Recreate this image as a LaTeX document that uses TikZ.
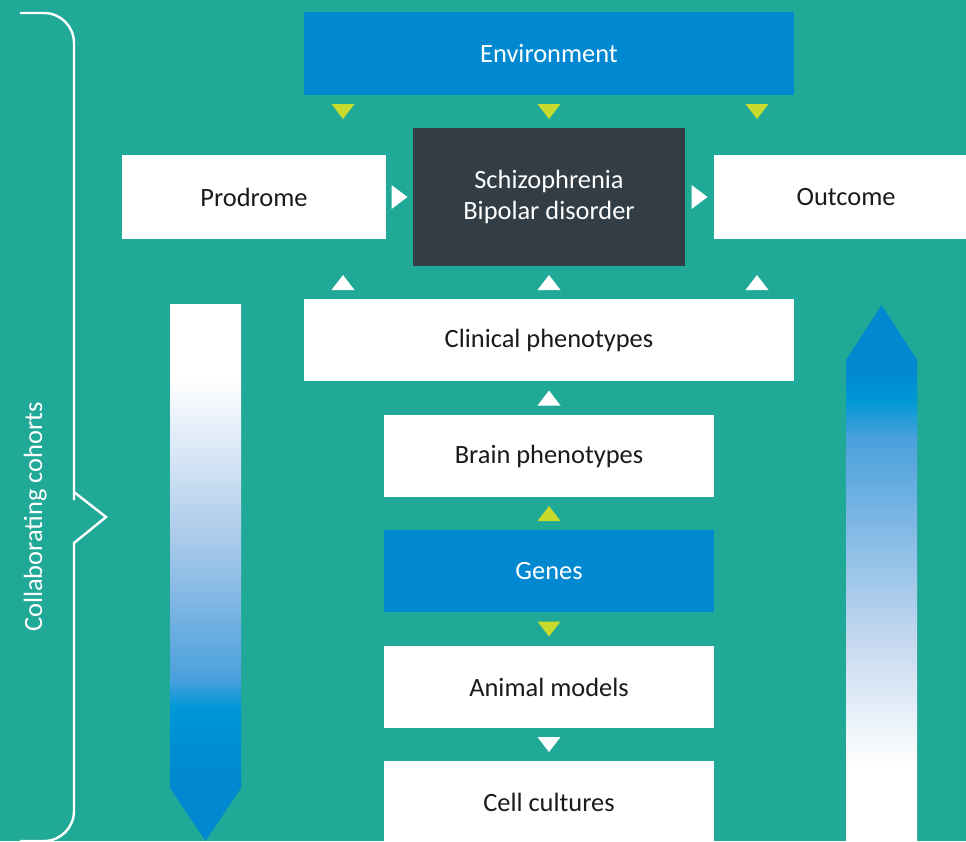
\documentclass[tikz,border=0pt]{standalone}
\usepackage{fontspec}
\setmainfont{Carlito}
\usetikzlibrary{calc}

\definecolor{bgteal}{HTML}{21A997}
\definecolor{boxblue}{HTML}{0089D0}
\definecolor{boxdark}{HTML}{323D45}
\definecolor{arrowyel}{HTML}{C8DA2B}
\definecolor{txtdark}{HTML}{1A1A1A}
\definecolor{gA}{HTML}{A9C9EA}
\definecolor{gB}{HTML}{4AA0DC}
\definecolor{gC}{HTML}{0098D6}
\definecolor{gD}{HTML}{0088D1}
\definecolor{gE}{HTML}{C8DAF0}

\tikzset{
  box/.style={rectangle, inner sep=0pt, align=center, fill=white, text=txtdark},
  bluebox/.style={fill=boxblue, text=white},
  darkbox/.style={fill=boxdark, text=white},
  widebox/.style={minimum width=490pt, minimum height=83pt},
  midbox/.style={minimum width=330pt, minimum height=82pt},
  sidebox/.style={minimum width=264pt, minimum height=84pt},
  tridown/.pic={\path[pic actions] (-11.5,-7.5) -- (11.5,-7.5) -- (0,7.5) -- cycle;},
  triup/.pic={\path[pic actions] (-11.5,7.5) -- (11.5,7.5) -- (0,-7.5) -- cycle;},
  triright/.pic={\path[pic actions] (-8,-12) -- (-8,12) -- (8,0) -- cycle;},
  bracket/.style={draw=white, line width=2.4pt, line join=miter}
}

\begin{document}
\begin{tikzpicture}[x=1pt, y=-1pt, font=\fontsize{26.4}{31.5}\selectfont]
  \useasboundingbox (0,0) rectangle (966,841);
  \clip (0,0) rectangle (966,841);
  \fill[bgteal] (0,0) rectangle (966,841);

  % left bracket with its pointer
  \draw[bracket] (20,13) [rounded corners=30pt] -- (74,13) -- (74,470)
    [sharp corners] -- (74,492) -- (106,517) -- (74,543)
    [rounded corners=30pt] -- (74,841) -- (20,841);
  \node[text=white, rotate=90, anchor=base, inner sep=0pt] (coh) at (42,517)
    {Collaborating cohorts};

  % downward gradient arrow
  \begin{scope}
    \clip (170,304) -- (241,304) -- (241,788) -- (205.5,841) -- (170,788) -- cycle;
    \fill[white] (165,300) rectangle (245,380);
    \shade[top color=white, bottom color=gA] (165,379) rectangle (245,541.5);
    \shade[top color=gA, bottom color=gB] (165,541) rectangle (245,679.5);
    \shade[top color=gB, bottom color=gC] (165,679) rectangle (245,707.5);
    \shade[top color=gC, bottom color=gD] (165,707) rectangle (245,776.5);
    \fill[gD] (165,776) rectangle (245,845);
  \end{scope}

  % upward gradient arrow
  \begin{scope}
    \clip (846,360) -- (881.5,305) -- (917,360) -- (917,845) -- (846,845) -- cycle;
    \fill[gD] (840,300) rectangle (920,369.5);
    \shade[top color=gD, bottom color=gC] (840,369) rectangle (920,400.5);
    \shade[top color=gC, bottom color=gB] (840,400) rectangle (920,438.5);
    \shade[top color=gB, bottom color=gE] (840,438) rectangle (920,645.5);
    \shade[top color=gE, bottom color=white] (840,645) rectangle (920,765.5);
    \fill[white] (840,765) rectangle (920,845);
  \end{scope}

  % boxes
  \node[box, widebox, bluebox] (env) at (549,53.5) {Environment};
  \node[box, sidebox] (prod) at (254,197) {Prodrome};
  \node[box, darkbox, minimum width=272pt, minimum height=138pt] (dis) at (549,197)
    {Schizophrenia\\Bipolar disorder};
  \node[box, sidebox] (out) at (846,197) {Outcome};
  \node[box, widebox, minimum height=82pt] (clin) at (549,340) {Clinical phenotypes};
  \node[box, midbox] (brain) at (549,456) {Brain phenotypes};
  \node[box, midbox, bluebox] (genes) at (549,571) {Genes};
  \node[box, midbox] (anim) at (549,687) {Animal models};
  \node[box, midbox] (cell) at (549,802) {Cell cultures};

  % arrowheads between the boxes
  \coordinate (envdis) at ($(env.south)!0.5!(dis.north)$);
  \pic[fill=arrowyel] at ($(envdis)+(-206,0)$) {tridown};
  \pic[fill=arrowyel] at (envdis) {tridown};
  \pic[fill=arrowyel] at ($(envdis)+(208,0)$) {tridown};

  \pic[fill=white] at ($(prod.east)!0.5!(dis.west)$) {triright};
  \pic[fill=white] at ($(dis.east)!0.5!(out.west)$) {triright};

  \coordinate (disclin) at ($(dis.south)!0.5!(clin.north)$);
  \pic[fill=white] at ($(disclin)+(-206,0)$) {triup};
  \pic[fill=white] at (disclin) {triup};
  \pic[fill=white] at ($(disclin)+(208,0)$) {triup};

  \pic[fill=white] at ($(clin.south)!0.5!(brain.north)$) {triup};
  \pic[fill=arrowyel] at ($(brain.south)!0.5!(genes.north)$) {triup};
  \pic[fill=arrowyel] at ($(genes.south)!0.5!(anim.north)$) {tridown};
  \pic[fill=white] at ($(anim.south)!0.5!(cell.north)$) {tridown};
\end{tikzpicture}
\end{document}
